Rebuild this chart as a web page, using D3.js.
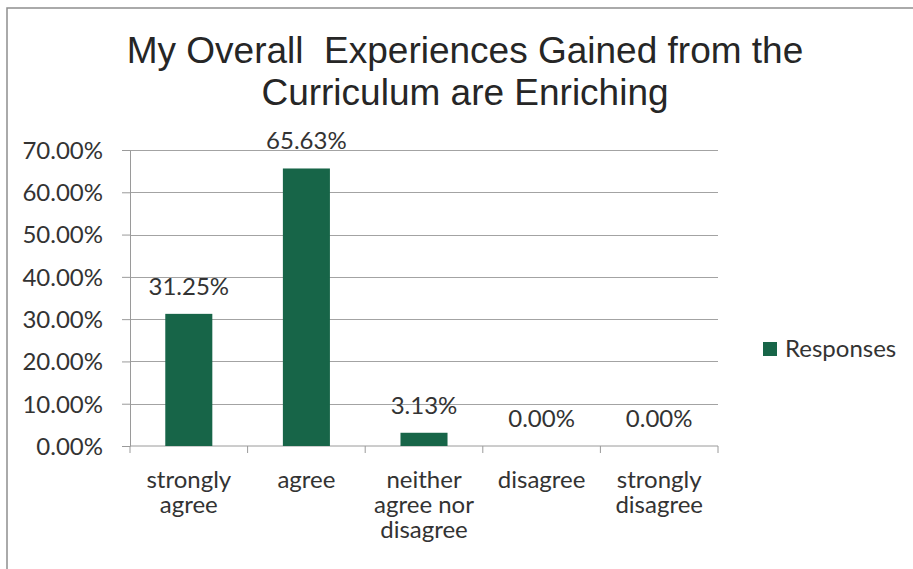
<!DOCTYPE html>
<meta charset="utf-8">
<style>

body {
  margin: 0;
  background: #fff;
}

.frame {
  fill: none;
  stroke: #8f8f8f;
  stroke-width: 1.5px;
}

.title {
  font-family: "Liberation Sans", Arial, sans-serif;
  font-size: 37px;
  fill: #262626;
  white-space: pre;
}

.grid line {
  stroke: #a3a3a3;
  stroke-width: 1px;
}

.axis path,
.axis line {
  stroke: #9a9a9a;
  stroke-width: 1px;
}

.axis text,
.label,
.legend text {
  font-family: Lato, "Open Sans", sans-serif;
  font-size: 24px;
  fill: #333;
}

.bar {
  fill: #176548;
}

</style>
<body>
<script src="https://cdn.jsdelivr.net/npm/d3@7/dist/d3.min.js"></script>
<script>

var width = 913,
    height = 569;

var categories = ["strongly agree", "agree", "neither agree nor disagree", "disagree", "strongly disagree"],
    categoryLines = [["strongly", "agree"], ["agree"], ["neither", "agree nor", "disagree"], ["disagree"], ["strongly", "disagree"]],
    responses = [31.25, 65.63, 3.13, 0.00, 0.00],
    yTicks = [0, 10, 20, 30, 40, 50, 60, 70],
    titleLines = ["My Overall  Experiences Gained from the", "Curriculum are Enriching"],
    seriesName = "Responses";

var margin = {top: 150, left: 130, right: 195, bottom: 123};

var x = d3.scaleBand()
    .domain(categories)
    .range([margin.left, width - margin.right])
    .paddingInner(0.6)
    .paddingOuter(0.3);

var y = d3.scaleLinear()
    .domain([0, 70])
    .range([height - margin.bottom, margin.top]);

var svg = d3.select("body").append("svg")
    .attr("width", width)
    .attr("height", height);

svg.append("rect")
    .attr("class", "frame")
    .attr("x", 7)
    .attr("y", 8)
    .attr("width", width + 20)
    .attr("height", height + 20);

svg.selectAll(".title")
    .data(titleLines)
  .enter().append("text")
    .attr("class", "title")
    .attr("x", 465)
    .attr("y", function(d, i) { return 63 + i * 42; })
    .attr("text-anchor", "middle")
    .text(function(d) { return d; });

// gridlines + y axis
svg.append("g")
    .attr("class", "grid")
  .selectAll("line")
    .data(yTicks.slice(1))
  .enter().append("line")
    .attr("x1", margin.left)
    .attr("x2", width - margin.right)
    .attr("y1", function(d) { return Math.round(y(d)) + 0.5; })
    .attr("y2", function(d) { return Math.round(y(d)) + 0.5; });

var yAxis = svg.append("g")
    .attr("class", "axis")
    .attr("transform", "translate(" + margin.left + ",0)")
    .call(d3.axisLeft(y)
      .tickValues(yTicks)
      .tickSize(8)
      .tickPadding(19)
      .tickSizeOuter(0)
      .tickFormat(function(d) { return d.toFixed(2) + "%"; }));

yAxis.selectAll("text").attr("dy", "0.35em");

// x axis with ticks between categories
var xAxis = svg.append("g")
    .attr("class", "axis")
    .attr("transform", "translate(0," + y(0) + ")");

xAxis.append("line")
    .attr("x1", margin.left)
    .attr("x2", width - margin.right);

var step = x.step();
xAxis.selectAll(".tick")
    .data(d3.range(categories.length + 1))
  .enter().append("line")
    .attr("class", "tick")
    .attr("x1", function(i) { return margin.left + i * step; })
    .attr("x2", function(i) { return margin.left + i * step; })
    .attr("y1", 0)
    .attr("y2", 7);

var xLabel = xAxis.selectAll(".xlabel")
    .data(categories)
  .enter().append("text")
    .attr("class", "label")
    .attr("text-anchor", "middle")
    .attr("transform", function(d) { return "translate(" + (x(d) + x.bandwidth() / 2) + ",42)"; });

xLabel.selectAll("tspan")
    .data(function(d, i) { return categoryLines[i]; })
  .enter().append("tspan")
    .attr("x", 0)
    .attr("y", function(d, i) { return i * 25; })
    .text(function(d) { return d; });

// bars
svg.selectAll(".bar")
    .data(responses)
  .enter().append("rect")
    .attr("class", "bar")
    .attr("x", function(d, i) { return x(categories[i]); })
    .attr("width", x.bandwidth())
    .attr("y", function(d) { return y(d); })
    .attr("height", function(d) { return y(0) - y(d); });

svg.selectAll(".value")
    .data(responses)
  .enter().append("text")
    .attr("class", "label")
    .attr("text-anchor", "middle")
    .attr("x", function(d, i) { return x(categories[i]) + x.bandwidth() / 2; })
    .attr("y", function(d) { return y(d) - 19; })
    .text(function(d) { return d.toFixed(2) + "%"; });

// legend
var legend = svg.append("g")
    .attr("class", "legend")
    .attr("transform", "translate(763,342)");

legend.append("rect")
    .attr("class", "bar")
    .attr("width", 14)
    .attr("height", 14);

legend.append("text")
    .attr("x", 22)
    .attr("y", 15)
    .text(seriesName);

</script>
